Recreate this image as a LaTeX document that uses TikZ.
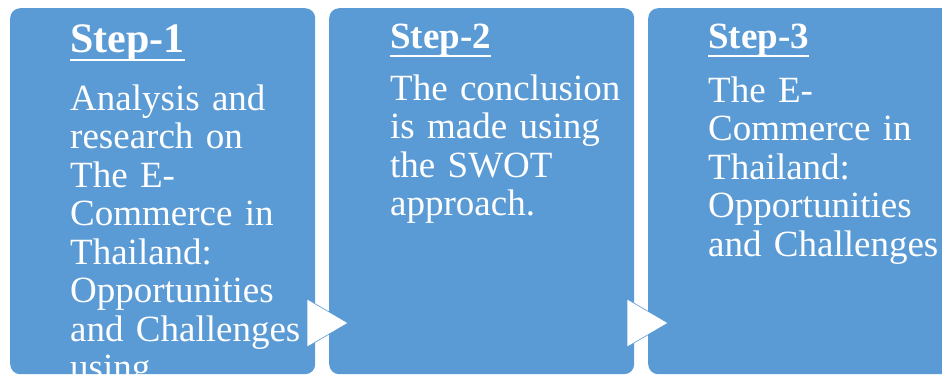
\documentclass[tikz,border=0pt]{standalone}
\usepackage{fontspec}
\setmainfont{Liberation Serif}
\usepackage{xcolor}
\usepackage{tikz}
\definecolor{stepblue}{HTML}{5B9BD5}
\newcommand{\stepul}[1]{\setbox0=\hbox{#1}\rlap{\vrule height -6.5pt depth 8.5pt width \wd0}\box0}

\begin{document}
\begin{tikzpicture}[x=1pt, y=-1pt,
  stepbox/.style={fill=stepblue, rounded corners=10pt, anchor=north west, inner sep=0pt},
  head/.style={anchor=base west, inner sep=0pt, text=white, font=\bfseries\fontsize{37}{38.5}\selectfont},
  body/.style={anchor=base west, inner sep=0pt, text=white, text width=300pt, align=left, font=\fontsize{37}{38.5}\selectfont},
  arr/.style={fill=white, draw=stepblue, line width=0.6pt}]
\useasboundingbox (0,0) rectangle (942,376);
\clip (0,0) rectangle (942,376);
% boxes
\node[stepbox, minimum width=305pt, minimum height=366pt] (b1) at (10,8) {};
\node[stepbox, minimum width=305pt, minimum height=366pt] (b2) at (329,8) {};
\node[stepbox, minimum width=320pt, minimum height=366pt] (b3) at (648,8) {};
% arrows
\draw[arr] (307,299) -- (348,323) -- (307,347) -- cycle;
\draw[arr] (627,299) -- (668,323) -- (627,347) -- cycle;
% texts
\node[head, font=\bfseries\fontsize{42}{44}\selectfont] (h1) at (70,52) {\stepul{Step-1}};
\node[body] (t1) at (70,110) {Analysis and\\research on\\The E-\\Commerce in\\Thailand:\\Opportunities\\and Challenges\\using};
\node[head] (h2) at (390,48) {\stepul{Step-2}};
\node[body] (t2) at (390,100) {The conclusion\\is made using\\the SWOT\\approach.};
\node[head] (h3) at (708,48) {\stepul{Step-3}};
\node[body] (t3) at (708,102) {The E-\\Commerce in\\Thailand:\\Opportunities\\and Challenges};
\end{tikzpicture}
\end{document}
